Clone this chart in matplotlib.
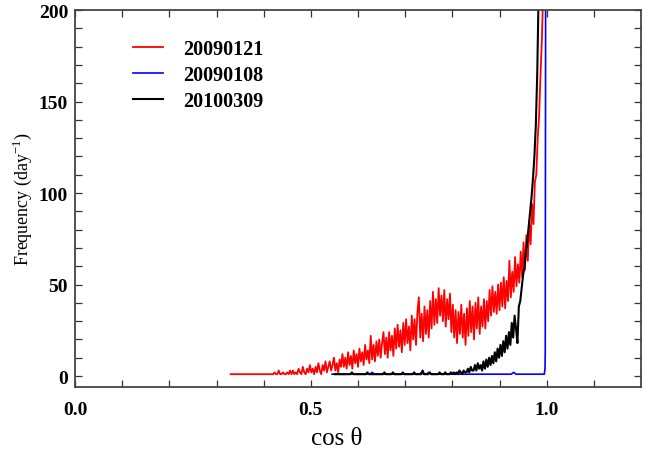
import numpy as np
import matplotlib
matplotlib.use("Agg")
import matplotlib.pyplot as plt

# ---- data ----
red_start, red_step = 0.330, 0.003
red_vals = [
    1, 1, 1, 1, 1, 1, 1, 1, 1, 1,
    1, 1, 1, 1, 1, 1, 1, 1, 1, 1,
    1, 1, 1, 1, 1, 1, 1, 1, 1, 1,
    1, 2, 1, 1, 3, 1, 1, 2, 1, 1,
    2, 1, 3, 1, 3, 1, 2, 1, 4, 2,
    1, 5, 2, 1, 4, 2, 6, 2, 4, 1,
    5, 2, 7, 3, 1, 6, 3, 8, 2, 5,
    8, 3, 6, 10, 3, 7, 2, 9, 5, 12,
    5, 10, 4, 13, 6, 11, 4, 14, 7, 12,
    5, 15, 8, 13, 6, 17, 9, 14, 7, 22,
    9, 17, 8, 19, 11, 20, 10, 18, 24, 12,
    21, 10, 24, 14, 22, 11, 26, 15, 28, 16,
    25, 13, 29, 17, 31, 18, 27, 14, 33, 20,
    31, 17, 35, 43, 21, 34, 19, 38, 23, 36,
    21, 41, 26, 46, 28, 42, 29, 48, 33, 44,
    30, 47, 27, 42, 31, 45, 24, 39, 21, 36,
    18, 35, 23, 39, 21, 34, 17, 37, 22, 41,
    24, 38, 20, 40, 26, 43, 23, 38, 27, 42,
    26, 41, 30, 47, 33, 49, 35, 46, 34, 50,
    36, 51, 38, 54, 37, 52, 41, 63, 43, 57,
    46, 65, 49, 61, 51, 68, 54, 73, 58, 77,
    63, 84, 72, 94, 83, 106, 110, 130, 142, 165,
    185, 215,
]

black_start, black_step = 0.551, 0.003
black_vals = [
    1, 1, 1, 1, 1, 1, 1, 1, 1, 1,
    1, 1, 2, 1, 1, 1, 1, 1, 1, 1,
    1, 1, 1, 2, 1, 1, 1, 1, 1, 1,
    1, 1, 1, 1, 1, 2, 1, 1, 1, 1,
    1, 2, 1, 1, 1, 1, 1, 1, 2, 1,
    1, 1, 1, 1, 1, 1, 2, 1, 1, 1,
    1, 1, 3, 1, 1, 1, 1, 2, 1, 1,
    1, 1, 1, 1, 2, 1, 1, 1, 2, 1,
    1, 1, 2,
    1, 2, 1, 2, 1, 3, 2, 1, 3, 2,
    2, 4, 2, 5, 3, 3, 6, 3, 7, 4,
    6, 3, 8, 4, 9, 5, 10, 6, 11, 7,
    13, 8, 15, 10, 17, 11, 19, 13, 22, 15,
    24, 17, 29, 21, 33, 26, 18, 38, 41, 48,
    55, 60, 68, 74, 82, 90, 98, 108, 120, 137,
    165, 210,
]

blue_start, blue_step = 0.545, 0.005
blue_vals = [
    1, 1, 1, 1, 1, 1, 1, 1, 1, 1,
    1, 1, 1, 1, 1, 1, 1, 2, 1, 1,
    1, 1, 1, 1, 1, 1, 1, 1, 1, 1,
    1, 1, 1, 1, 1, 1, 1, 1, 2, 1,
    1, 2, 1, 1, 1, 1, 1, 1, 1, 1,
    1, 1, 1, 1, 1, 1, 1, 1, 1, 1,
    1, 1, 1, 1, 1, 1, 1, 1, 1, 1,
    1, 1, 1, 1, 1, 1, 1, 2, 1, 1,
    1, 1, 1, 1, 1, 1, 1, 1, 1, 1,
    1,
]
blue_tail_x = [0.9965, 0.997, 0.998]
blue_tail_y = [4, 13, 260]

labels = ["20090121", "20090108", "20100309"]
colors = ["red", "blue", "black"]

# ---- figure ----
fig = plt.figure(figsize=(6.56, 4.52), dpi=100)
ax = fig.add_axes([75 / 656, 1 - 388 / 452, 566 / 656, 377 / 452])

red_x = red_start + red_step * np.arange(len(red_vals))
black_x = black_start + black_step * np.arange(len(black_vals))
blue_x = np.concatenate([blue_start + blue_step * np.arange(len(blue_vals)), blue_tail_x])
blue_y = np.concatenate([blue_vals, blue_tail_y])

ax.plot(red_x, red_vals, color=colors[0], lw=1.3, label=labels[0])
ax.plot(blue_x, blue_y, color=colors[1], lw=1.2, label=labels[1])
ax.plot(black_x, black_vals, color=colors[2], lw=1.5, label=labels[2])

ax.set_xlim(0.0, 1.2)
ax.set_ylim(-6, 200)
ax.set_xticks([0.0, 0.5, 1.0])
ax.set_xticks(np.arange(0.1, 1.2, 0.1), minor=True)
ax.set_yticks([0, 50, 100, 150, 200])
ax.set_yticks(np.arange(10, 200, 10), minor=True)
ax.set_xticklabels(["0.0", "0.5", "1.0"])

for lab in ax.get_xticklabels() + ax.get_yticklabels():
    lab.set_fontfamily("Liberation Serif")
    lab.set_fontweight("bold")
    lab.set_fontsize(14)

ax.tick_params(which="both", direction="in", top=True, right=True,
               length=5, width=0.9, color="#333333")
ax.tick_params(axis="x", which="major", pad=10)
ax.tick_params(axis="y", which="major", pad=5)
for s in ax.spines.values():
    s.set_color("#444444")
    s.set_linewidth(1.3)

ax.set_xlabel("cos θ", fontfamily="Liberation Serif", fontsize=18)
ax.xaxis.set_label_coords(0.463, -0.105)
ax.set_ylabel("Frequency (day$^{\\mathregular{-1}}$)", fontfamily="Liberation Serif",
              fontsize=13)
ax.yaxis.set_label_coords(-0.072, 0.5)

leg = ax.legend(loc="upper left", bbox_to_anchor=(0.1025, 0.922), frameon=False,
                handlelength=1.5, handletextpad=1.0, labelspacing=0.3,
                borderpad=0, borderaxespad=0,
                prop=dict(family="Liberation Serif", weight="bold", size=14.5))

fig.savefig("out.png", dpi=100)
